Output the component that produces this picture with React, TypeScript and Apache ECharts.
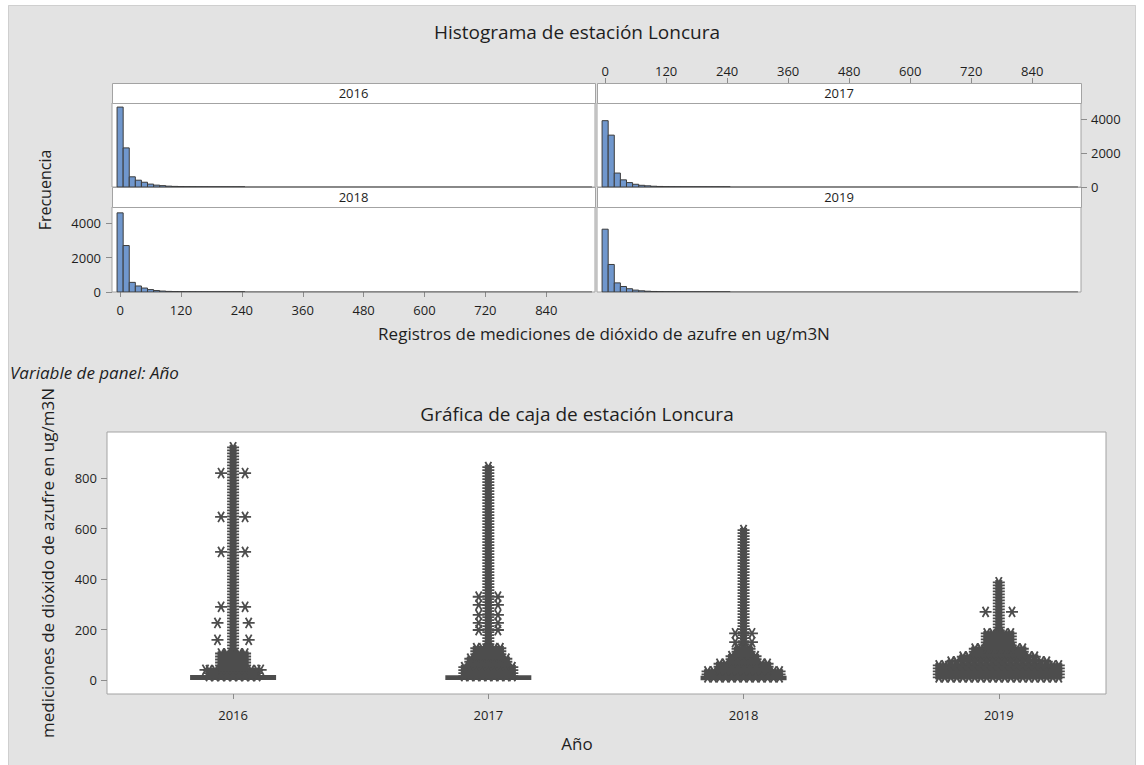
import { useEffect, useRef } from "react";
import * as echarts from "echarts";

// ---- data ----
const years = ["2016", "2017", "2018", "2019"];
const histTicks = [0, 120, 240, 360, 480, 600, 720, 840];
const freqTicks = [0, 2000, 4000];
const boxTicks = [0, 200, 400, 600, 800];

// histogram bins of width 12, by midpoint
const binWidth = 12;
const binMids = [0, 12, 24, 36, 48, 60, 72, 84, 96, 108, 120, 132, 144, 156, 168, 180, 192, 204, 216, 228, 240];
const counts2016 = [4700, 2300, 600, 400, 280, 170, 110, 80, 50, 35, 25, 18, 14, 10, 8, 6, 5, 4, 3, 3, 2];
const counts2017 = [3900, 3050, 820, 420, 260, 160, 100, 70, 45, 32, 22, 16, 12, 9, 7, 5, 4, 3, 2, 2, 1];
const counts2018 = [4600, 2700, 560, 350, 230, 140, 85, 55, 35, 25, 18, 12, 9, 6, 4, 3, 2, 2, 1, 1, 1];
const counts2019 = [3650, 1600, 530, 320, 190, 110, 70, 45, 30, 20, 14, 10, 7, 5, 3, 2, 1, 1, 1, 0, 0];
// range covered by the binned records
const valueSpan = [-6, 930];

// box statistics: [lower whisker, Q1, median, Q3, upper whisker]
const box2016 = [0, 4, 8, 15, 31];
const box2017 = [0, 4, 8, 14, 30];
const box2018 = [0, 3, 7, 12, 27];
const box2019 = [1, 8, 15, 24, 48];

// dense runs of outliers: [from, to, symbols side by side]
const bands2016 = [[30, 925, 1], [15, 45, 5], [45, 110, 3]];
const bands2017 = [[35, 845, 1], [15, 60, 5], [60, 90, 4], [90, 130, 3]];
const bands2018 = [[35, 605, 1], [10, 40, 7], [40, 70, 5], [70, 100, 3], [100, 135, 2]];
const bands2019 = [[30, 390, 1], [10, 60, 11], [60, 80, 9], [80, 100, 7], [100, 125, 5], [125, 185, 3]];

// single outliers beside the stacks: [value, offset in symbol widths]
const side2016 = [[821, -1], [821, 1], [647, -1], [647, 1], [508, -1], [508, 1], [290, -1], [290, 1], [226, -1.3], [226, 1.3], [159, -1.3], [159, 1.3], [40, -2.3], [40, 2.3]];
const side2017 = [[330, -0.8], [330, 0.8], [298, -0.8], [298, 0.8], [258, -0.8], [258, 0.8], [226, -0.8], [226, 0.8], [198, -0.8], [198, 0.8]];
const side2018 = [[185, -0.7], [185, 0.7], [150, -0.7], [150, 0.7]];
const side2019 = [[270, -1.1], [270, 1.1]];

// ---- drawing constants ----
const FONT = "'Open Sans', 'Noto Sans', sans-serif";
const TEXT = "#1e1e1e";
const FRAME = "#a3a3a3";
const MARK = "#4d4d4d";
const BAR_FILL = "#7097cd";
const BAR_EDGE = "#3c3c3c";
const BOX_W = 84;
const STEP_X = 12;
const FILL_X = 6;
const STEP_Y = 3;
const AST_R = 6;

const AsteriskSet = echarts.graphic.extendShape({
  type: "asteriskSet",
  shape: { pts: [] as number[][], r: 6 },
  buildPath(ctx: any, shape: any) {
    const r = shape.r;
    const dx = r * 0.5;
    const dy = r * 0.866;
    for (const p of shape.pts) {
      const x = p[0];
      const y = p[1];
      ctx.moveTo(x - r, y);
      ctx.lineTo(x + r, y);
      ctx.moveTo(x - dx, y - dy);
      ctx.lineTo(x + dx, y + dy);
      ctx.moveTo(x - dx, y + dy);
      ctx.lineTo(x + dx, y - dy);
    }
  },
});
echarts.graphic.registerShape("asteriskSet", AsteriskSet);

const panels = [
  { year: "2016", counts: counts2016, left: 112, top: 103, width: 483, height: 84 },
  { year: "2017", counts: counts2017, left: 597, top: 103, width: 484, height: 84 },
  { year: "2018", counts: counts2018, left: 112, top: 207, width: 483, height: 85 },
  { year: "2019", counts: counts2019, left: 597, top: 207, width: 484, height: 85 },
];

function histRender(_params: any, api: any) {
  const x = api.value(0);
  const c = api.value(1);
  const p0 = api.coord([x - binWidth / 2, 0]);
  const p1 = api.coord([x + binWidth / 2, c]);
  return {
    type: "rect",
    shape: { x: p0[0], y: p1[1], width: p1[0] - p0[0], height: p0[1] - p1[1] },
    style: { fill: BAR_FILL, stroke: BAR_EDGE, lineWidth: 1 },
  };
}

function boxRender(_params: any, api: any) {
  const cat = api.value(0);
  const x = api.coord([cat, 0])[0];
  const y = (i: number) => api.coord([cat, api.value(i)])[1];
  const yLo = y(1), yQ1 = y(2), yMed = y(3), yQ3 = y(4), yHi = y(5);
  const half = BOX_W / 2;
  const ls = { stroke: MARK, lineWidth: 1.5 };
  return {
    type: "group",
    children: [
      { type: "line", shape: { x1: x, y1: yHi, x2: x, y2: yQ3 }, style: ls },
      { type: "line", shape: { x1: x, y1: yQ1, x2: x, y2: yLo }, style: ls },
      {
        type: "rect",
        shape: { x: x - half, y: yQ3, width: BOX_W, height: Math.max(yQ1 - yQ3, 1) },
        style: { fill: MARK, stroke: MARK, lineWidth: 2 },
      },
      { type: "line", shape: { x1: x - half, y1: yMed, x2: x + half, y2: yMed }, style: ls },
    ],
  };
}

// a dense run of outliers is drawn as overlapping asterisks filling its extent
function bandRender(_params: any, api: any) {
  const cat = api.value(0);
  const lo = api.value(1);
  const hi = api.value(2);
  const across = api.value(3);
  const xc = api.coord([cat, 0])[0];
  const yBot = api.coord([cat, lo])[1];
  const yTop = api.coord([cat, hi])[1];
  const half = ((across - 1) / 2) * STEP_X;
  const cols = Math.max(1, Math.round((2 * half) / FILL_X) + 1);
  const pts: number[][] = [];
  for (let yy = yBot; yy >= yTop - 0.01; yy -= STEP_Y) {
    for (let k = 0; k < cols; k++) {
      const x = cols === 1 ? xc : xc - half + (k * 2 * half) / (cols - 1);
      pts.push([x, yy]);
    }
  }
  return {
    type: "asteriskSet",
    shape: { pts, r: AST_R },
    style: { stroke: MARK, lineWidth: 1.9, fill: "none" },
  };
}

function sideRender(_params: any, api: any) {
  const cat = api.value(0);
  const v = api.value(1);
  const off = api.value(2);
  const p = api.coord([cat, v]);
  return {
    type: "asteriskSet",
    shape: { pts: [[p[0] + off * STEP_X, p[1]]], r: AST_R },
    style: { stroke: MARK, lineWidth: 1.8, fill: "none" },
  };
}

function buildOption() {
  const tickLabel = { color: TEXT, fontFamily: FONT, fontSize: 13, formatter: (v: number) => String(v) };
  const grids: any[] = [];
  const xAxes: any[] = [];
  const yAxes: any[] = [];
  const series: any[] = [];
  const graphics: any[] = [];

  // page frame
  graphics.push(
    { type: "rect", shape: { x: 0, y: 0, width: 1144, height: 5 }, style: { fill: "#ffffff" }, silent: true },
    { type: "rect", shape: { x: 0, y: 0, width: 8, height: 765 }, style: { fill: "#ffffff" }, silent: true },
    { type: "rect", shape: { x: 1136, y: 0, width: 8, height: 765 }, style: { fill: "#ffffff" }, silent: true },
    { type: "line", shape: { x1: 8.5, y1: 5.5, x2: 8.5, y2: 765 }, style: { stroke: "#cfcfcf", lineWidth: 1 }, silent: true },
    { type: "line", shape: { x1: 8.5, y1: 5.5, x2: 1135.5, y2: 5.5 }, style: { stroke: "#cfcfcf", lineWidth: 1 }, silent: true },
    { type: "line", shape: { x1: 1135.5, y1: 5.5, x2: 1135.5, y2: 765 }, style: { stroke: "#cfcfcf", lineWidth: 1 }, silent: true }
  );

  panels.forEach((p, i) => {
    grids.push({
      left: p.left, top: p.top, width: p.width, height: p.height,
      show: true, backgroundColor: "#ffffff", borderColor: FRAME, borderWidth: 1,
    });
    const isTR = i === 1;
    const isBL = i === 2;
    xAxes.push({
      type: "value", gridIndex: i, min: -16, max: 936,
      position: isTR ? "top" : "bottom",
      offset: isTR ? 20 : 0,
      axisLine: { show: false, onZero: false },
      axisTick: { show: isTR || isBL, length: 5, lineStyle: { color: "#8c8c8c" }, customValues: histTicks },
      axisLabel: { show: isTR || isBL, margin: isTR ? 6 : 11, ...tickLabel, customValues: histTicks },
      splitLine: { show: false },
    });
    yAxes.push({
      type: "value", gridIndex: i, min: 0, max: 4940,
      position: isTR ? "right" : "left",
      axisLine: { show: false, onZero: false },
      axisTick: { show: isTR || isBL, length: 6, lineStyle: { color: "#8c8c8c" }, customValues: freqTicks },
      axisLabel: { show: isTR || isBL, margin: isTR ? 10 : 11, ...tickLabel, customValues: freqTicks },
      splitLine: { show: false },
    });
    series.push({
      type: "line", xAxisIndex: i, yAxisIndex: i, silent: true, symbol: "none",
      lineStyle: { color: BAR_EDGE, width: 1 },
      data: [[valueSpan[0], 0], [valueSpan[1], 0]],
      z: 1,
    });
    series.push({
      type: "custom", xAxisIndex: i, yAxisIndex: i, silent: true, clip: true,
      renderItem: histRender,
      encode: { x: 0, y: 1 },
      data: binMids.map((m, k) => [m, p.counts[k]]),
      z: 2,
    });
    // panel strip
    const stripTop = p.top - 20;
    graphics.push({
      type: "rect",
      shape: { x: p.left + 0.5, y: stripTop + 0.5, width: p.width, height: 20 },
      style: { fill: "#ffffff", stroke: FRAME, lineWidth: 1 },
      silent: true,
    });
    graphics.push({
      type: "text", x: p.left + p.width / 2, y: stripTop + 10,
      style: { text: p.year, align: "center", verticalAlign: "middle", fill: TEXT, font: `13px ${FONT}` },
      silent: true,
    });
  });

  // box plot grid
  const bi = panels.length;
  grids.push({
    left: 107, top: 432, width: 999, height: 262,
    show: true, backgroundColor: "#ffffff", borderColor: FRAME, borderWidth: 1,
  });
  xAxes.push({
    type: "value", gridIndex: bi, min: 0.506, max: 4.42,
    axisLine: { show: false, onZero: false },
    axisTick: { show: true, length: 5, lineStyle: { color: "#8c8c8c" }, customValues: [1, 2, 3, 4] },
    axisLabel: {
      ...tickLabel, margin: 14, customValues: [1, 2, 3, 4],
      formatter: (v: number) => years[Math.round(v) - 1] ?? "",
    },
    splitLine: { show: false },
  });
  yAxes.push({
    type: "value", gridIndex: bi, min: -56, max: 984,
    axisLine: { show: false, onZero: false },
    axisTick: { show: true, length: 6, lineStyle: { color: "#8c8c8c" }, customValues: boxTicks },
    axisLabel: { ...tickLabel, margin: 10, customValues: boxTicks },
    splitLine: { show: false },
  });
  const boxes = [box2016, box2017, box2018, box2019];
  const bands = [bands2016, bands2017, bands2018, bands2019];
  const sides = [side2016, side2017, side2018, side2019];
  series.push({
    type: "custom", xAxisIndex: bi, yAxisIndex: bi, silent: true, clip: true,
    renderItem: boxRender,
    encode: { x: 0, y: [1, 2, 3, 4, 5] },
    data: boxes.map((b, k) => [k + 1, ...b]),
    z: 2,
  });
  series.push({
    type: "custom", xAxisIndex: bi, yAxisIndex: bi, silent: true, clip: true,
    renderItem: bandRender,
    encode: { x: 0, y: [1, 2] },
    data: bands.flatMap((list, k) => list.map((b) => [k + 1, b[0], b[1], b[2]])),
    z: 3,
  });
  series.push({
    type: "custom", xAxisIndex: bi, yAxisIndex: bi, silent: true, clip: true,
    renderItem: sideRender,
    encode: { x: 0, y: 1 },
    data: sides.flatMap((list, k) => list.map((s) => [k + 1, s[0], s[1]])),
    z: 3,
  });

  // titles and axis names
  const txt = (text: string, x: number, y: number, size: number, extra: any = {}) => ({
    type: "text", x, y, silent: true, ...extra,
    style: { text, align: "center", verticalAlign: "middle", fill: TEXT, font: `${size}px ${FONT}` },
  });
  graphics.push(
    txt("Histograma de estación Loncura", 577, 32, 19),
    txt("Registros de mediciones de dióxido de azufre en ug/m3N", 604, 333, 17),
    txt("Frecuencia", 45, 190, 16, { rotation: Math.PI / 2 }),
    {
      type: "text", x: 10, y: 372, silent: true,
      style: { text: "Variable de panel: Año", align: "left", verticalAlign: "middle", fill: TEXT, font: `italic 17px ${FONT}` },
    },
    txt("Gráfica de caja de estación Loncura", 577, 414, 19),
    txt("mediciones de dióxido de azufre en ug/m3N", 47, 563, 17, { rotation: Math.PI / 2 }),
    txt("Año", 577, 743, 17)
  );

  return {
    animation: false,
    backgroundColor: "#e3e3e3",
    grid: grids,
    xAxis: xAxes,
    yAxis: yAxes,
    series,
    graphic: { elements: graphics },
  };
}

export default function App() {
  const ref = useRef<HTMLDivElement>(null);
  useEffect(() => {
    document.body.style.margin = "0";
    if (!ref.current) return;
    const chart = echarts.init(ref.current, undefined, { renderer: "svg" });
    chart.setOption(buildOption() as any);
    return () => chart.dispose();
  }, []);
  return <div ref={ref} style={{ width: 1144, height: 765 }} />;
}
